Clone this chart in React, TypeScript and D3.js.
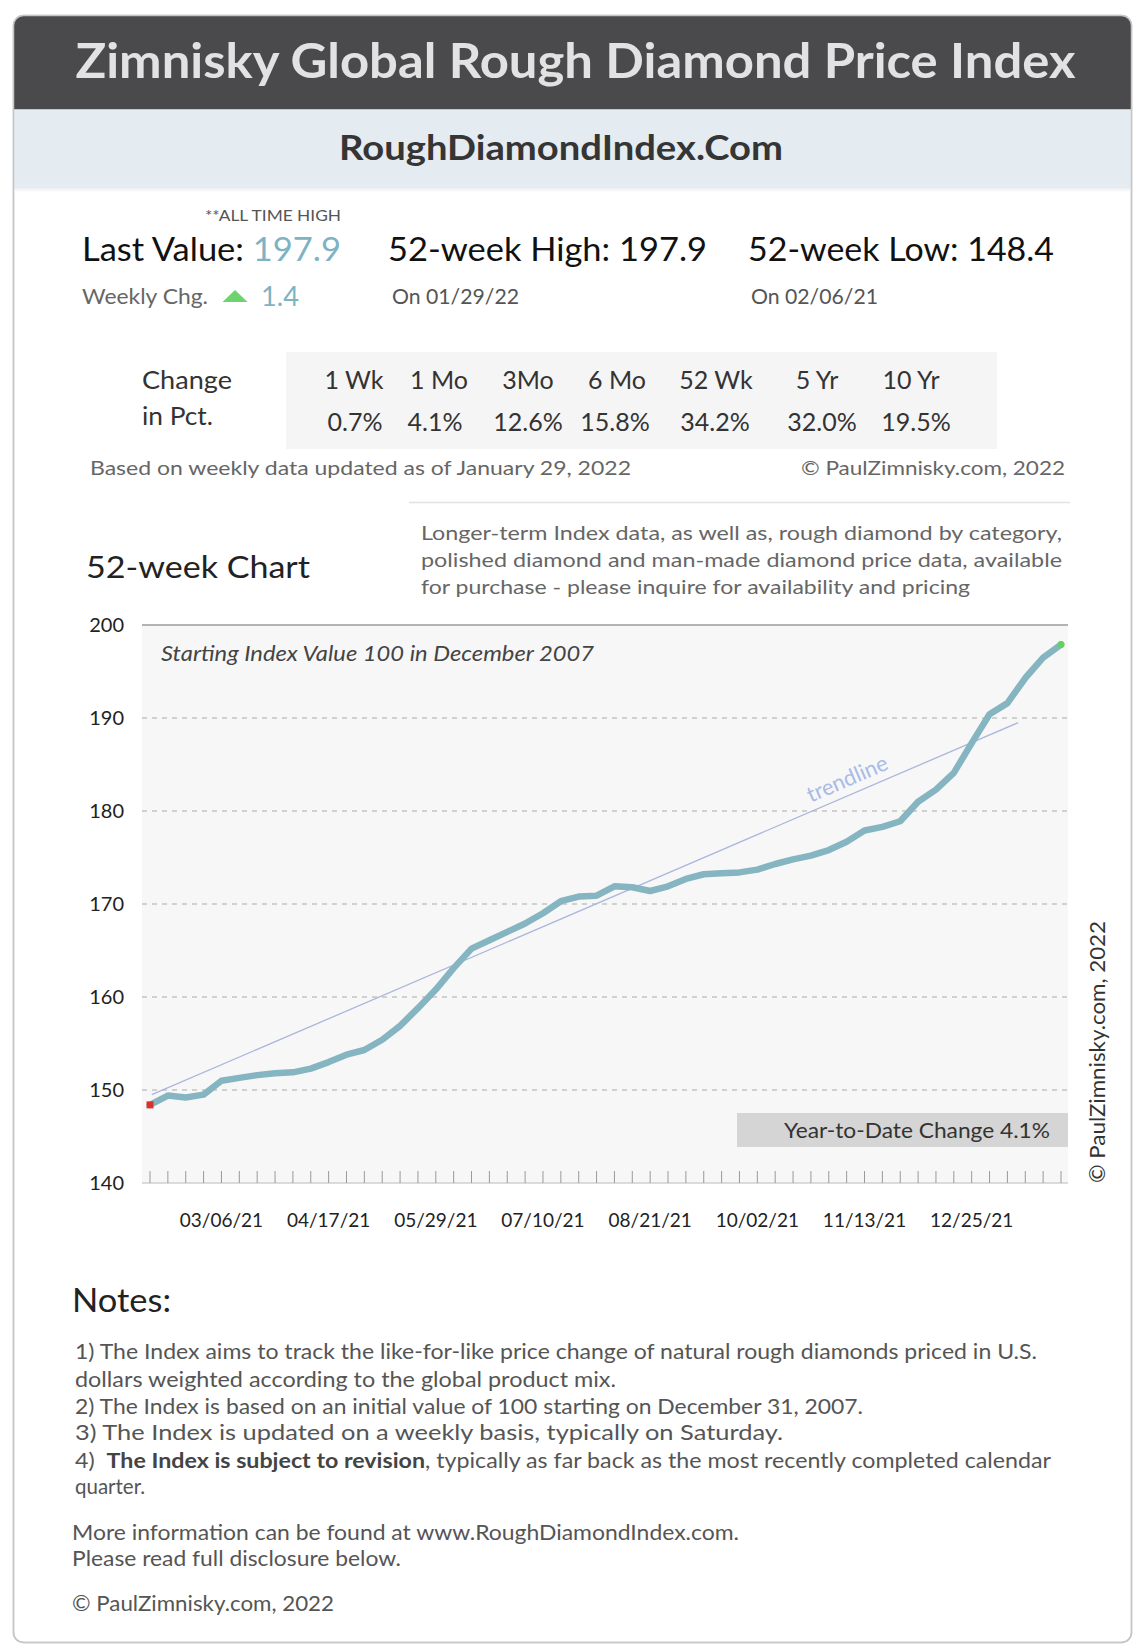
import React from "react";
import * as d3 from "d3";

// ---------- data ----------
const weeklyValues = [
  148.4, 149.4, 149.2, 149.5, 151.0, 151.3, 151.6, 151.8, 151.9, 152.3,
  153.0, 153.8, 154.3, 155.4, 156.9, 158.8, 160.8, 163.1, 165.2, 166.1,
  167.0, 167.9, 169.0, 170.3, 170.8, 170.9, 171.9, 171.8, 171.4, 171.9,
  172.7, 173.2, 173.3, 173.4, 173.7, 174.3, 174.8, 175.2, 175.8, 176.7,
  177.9, 178.3, 178.9, 181.0, 182.3, 184.1, 187.3, 190.4, 191.6, 194.3,
  196.5, 197.9,
];
const startDate = "2021-02-06";
const yTicks = [140, 150, 160, 170, 180, 190, 200];
const gridValues = [150, 160, 170, 180, 190];
const xTickLabels = ["03/06/21", "04/17/21", "05/29/21", "07/10/21", "08/21/21", "10/02/21", "11/13/21", "12/25/21"];
const periodLabels = ["1 Wk", "1 Mo", "3Mo", "6 Mo", "52 Wk", "5 Yr", "10 Yr"];
const periodChanges = ["0.7%", "4.1%", "12.6%", "15.8%", "34.2%", "32.0%", "19.5%"];
const lastValue = "197.9";
const weeklyChange = "1.4";
const high52 = "197.9";
const high52Date = "01/29/22";
const low52 = "148.4";
const low52Date = "02/06/21";
const ytdChange = "4.1%";
// trendline end points: [week index, index value]
const trendWeeks = [0.1, 48.6];
const trendValues = [149.5, 189.5];
const descLines = [
  "Longer-term Index data, as well as, rough diamond by category,",
  "polished diamond and man-made diamond price data, available",
  "for purchase - please inquire for availability and pricing",
];
const noteLines = [
  "1) The Index aims to track the like-for-like price change of natural rough diamonds priced in U.S.",
  "dollars weighted according to the global product mix.",
  "2) The Index is based on an initial value of 100 starting on December 31, 2007.",
  "3) The Index is updated on a weekly basis, typically on Saturday.",
];
const note4Bold = "The Index is subject to revision";
const note4Rest = ", typically as far back as the most recently completed calendar";

// ---------- layout ----------
const W = 1139;
const H = 1648;
const FONT = "Lato, 'Open Sans', sans-serif";
const plot = { left: 142, right: 1068, top: 625, bottom: 1183, x0: 150, x1: 1061 };
const tableHeaderX = [354, 439, 528, 617, 716, 817, 911];
const tableValueX = [355, 435, 528, 615, 715, 822, 916];

export default function App() {
  const parseDay = d3.timeParse("%Y-%m-%d");
  const parseTick = d3.timeParse("%m/%d/%y");
  const start = parseDay(startDate) as Date;
  const dates = weeklyValues.map((_, i) => d3.timeDay.offset(start, 7 * i));
  const data = weeklyValues.map((v, i) => ({ date: dates[i], value: v, i }));

  const x = d3.scaleTime().domain([dates[0], dates[dates.length - 1]]).range([plot.x0, plot.x1]);
  const y = d3.scaleLinear().domain([140, 200]).range([plot.bottom, plot.top]);
  const xi = d3.scaleLinear().domain([0, weeklyValues.length - 1]).range([plot.x0, plot.x1]);

  const line = d3
    .line<{ date: Date; value: number }>()
    .x((d) => x(d.date))
    .y((d) => y(d.value))
    .curve(d3.curveLinear);

  const trendPts = trendWeeks.map((t, k) => [xi(t), y(trendValues[k])] as [number, number]);
  const trendLine = d3.line()(trendPts) as string;
  const angle =
    (Math.atan2(trendPts[1][1] - trendPts[0][1], trendPts[1][0] - trendPts[0][0]) * 180) / Math.PI;
  const labelT = 39.2;
  const trendAt = (t: number) =>
    trendValues[0] + ((t - trendWeeks[0]) / (trendWeeks[1] - trendWeeks[0])) * (trendValues[1] - trendValues[0]);

  const first = data[0];
  const last = data[data.length - 1];

  return (
    <div style={{ position: "absolute", left: 0, top: 0 }}>
      <svg width={W} height={H} viewBox={`0 0 ${W} ${H}`} style={{ display: "block", fontFamily: FONT }}>
        <defs>
          <clipPath id="card">
            <rect x={13.5} y={15.5} width={1118} height={1627} rx={10} />
          </clipPath>
          <linearGradient id="bandShadow" x1="0" y1="0" x2="0" y2="1">
            <stop offset="0" stopColor="#dfe6ec" />
            <stop offset="1" stopColor="#ffffff" />
          </linearGradient>
          <filter id="soft" x="-5%" y="-5%" width="110%" height="110%">
            <feGaussianBlur stdDeviation="0.6" />
          </filter>
        </defs>
        <rect x={0} y={0} width={W} height={H} fill="#ffffff" />
        <rect x={13.5} y={15.5} width={1118} height={1627} rx={10} fill="#ffffff" stroke="#c6c6c6" strokeWidth={1.5} />
        <g clipPath="url(#card)">
          <rect x={13.5} y={15.5} width={1118} height={94} fill="#4a4a4c" />
          <rect x={13.5} y={109.5} width={1118} height={76} fill="#e4ebf1" />
          <rect x={13.5} y={185.5} width={1118} height={7} fill="url(#bandShadow)" />
        </g>
        <rect x={13.5} y={15.5} width={1118} height={1627} rx={10} fill="none" stroke="#c6c6c6" strokeWidth={1.5} />

        <text x={575.5} y={78} textAnchor="middle" fontSize={48} fontWeight={700} fill="#e2e2e2" textLength={1000} lengthAdjust="spacingAndGlyphs">
          Zimnisky Global Rough Diamond Price Index
        </text>
        <text x={561} y={160} textAnchor="middle" fontSize={34} fontWeight={700} fill="#353535" textLength={444} lengthAdjust="spacingAndGlyphs">
          RoughDiamondIndex.Com
        </text>

        {/* stats */}
        <text x={205} y={221} fontSize={16} fill="#555" textLength={136} lengthAdjust="spacingAndGlyphs">**ALL TIME HIGH</text>
        <text x={82} y={261} fontSize={33} fill="#111" textLength={259} lengthAdjust="spacingAndGlyphs">
          Last Value: <tspan fill="#7db3c3">{lastValue}</tspan>
        </text>
        <text x={388} y={261} fontSize={33} fill="#111" textLength={319} lengthAdjust="spacingAndGlyphs">
          {`52-week High: ${high52}`}
        </text>
        <text x={748} y={261} fontSize={33} fill="#111" textLength={306} lengthAdjust="spacingAndGlyphs">
          {`52-week Low: ${low52}`}
        </text>
        <text x={82} y={303.5} fontSize={21} fill="#666" textLength={126} lengthAdjust="spacingAndGlyphs">Weekly Chg.</text>
        <path d="M222.5,302 L247.5,302 L235,290 Z" fill="#6dd36d" />
        <text x={261} y={305.5} fontSize={26} fill="#7db3c3" textLength={38} lengthAdjust="spacingAndGlyphs">{weeklyChange}</text>
        <text x={392} y={303.5} fontSize={21} fill="#555" textLength={127} lengthAdjust="spacingAndGlyphs">{`On ${high52Date}`}</text>
        <text x={751} y={303.5} fontSize={21} fill="#555" textLength={127} lengthAdjust="spacingAndGlyphs">{`On ${low52Date}`}</text>

        {/* change table */}
        <rect x={286} y={352} width={711} height={97} fill="#f5f5f5" />
        <text x={142} y={389} fontSize={25} fill="#333" textLength={90} lengthAdjust="spacingAndGlyphs">Change</text>
        <text x={142} y={425} fontSize={25} fill="#333" textLength={71} lengthAdjust="spacingAndGlyphs">in Pct.</text>
        {periodLabels.map((p, k) => (
          <text key={p} x={tableHeaderX[k]} y={389} fontSize={25} fill="#333" textAnchor="middle">{p}</text>
        ))}
        {periodChanges.map((p, k) => (
          <text key={k} x={tableValueX[k]} y={431} fontSize={25} fill="#333" textAnchor="middle">{p}</text>
        ))}
        <text x={90} y={475} fontSize={20} fill="#666" textLength={541} lengthAdjust="spacingAndGlyphs">
          Based on weekly data updated as of January 29, 2022
        </text>
        <text x={801} y={475} fontSize={20} fill="#666" textLength={264} lengthAdjust="spacingAndGlyphs">
          © PaulZimnisky.com, 2022
        </text>
        <line x1={409} x2={1070} y1={502.5} y2={502.5} stroke="#e2e2e2" strokeWidth={1.5} />

        <text x={86} y={578} fontSize={30} fill="#222" textLength={224} lengthAdjust="spacingAndGlyphs">52-week Chart</text>
        {descLines.map((l, k) => (
          <text key={k} x={421} y={540 + k * 27} fontSize={20} fill="#666" textLength={[641, 641, 549][k]} lengthAdjust="spacingAndGlyphs">
            {l}
          </text>
        ))}

        {/* chart */}
        <rect x={plot.left} y={plot.top} width={plot.right - plot.left} height={plot.bottom - plot.top} fill="#f7f7f7" />
        {gridValues.map((g) => (
          <line key={g} x1={plot.left} x2={plot.right} y1={y(g)} y2={y(g)} stroke="#c4c4c4" strokeWidth={1.5} strokeDasharray="5,5" />
        ))}
        <line x1={plot.left} x2={plot.right} y1={y(200)} y2={y(200)} stroke="#b3b3b3" strokeWidth={2} />
        <line x1={plot.left} x2={plot.right} y1={y(140)} y2={y(140)} stroke="#d0d0d0" strokeWidth={1.5} />
        {dates.map((d, k) => (
          <line key={k} x1={x(d)} x2={x(d)} y1={y(140) - 12} y2={y(140)} stroke="#9a9a9a" strokeWidth={1} />
        ))}
        {yTicks.map((t) => (
          <text key={t} x={124} y={y(t) + 7} fontSize={20} fill="#222" textAnchor="end">{t}</text>
        ))}
        {xTickLabels.map((t) => {
          const d = parseTick(t) as Date;
          return (
            <text key={t} x={x(d)} y={1227} fontSize={19} fill="#222" textAnchor="middle">{t}</text>
          );
        })}
        <text x={161} y={661} fontSize={21} fontStyle="italic" fill="#444" textLength={433} lengthAdjust="spacingAndGlyphs">
          Starting Index Value 100 in December 2007
        </text>

        <rect x={737} y={1113} width={plot.right - 737} height={34} fill="#d5d5d5" />
        <text x={784} y={1138} fontSize={21} fill="#333" textLength={266} lengthAdjust="spacingAndGlyphs">
          {`Year-to-Date Change ${ytdChange}`}
        </text>

        {/* trendline */}
        <path d={trendLine} fill="none" stroke="#aab6dc" strokeWidth={1.3} />
        <text
          transform={`translate(${xi(labelT)},${y(trendAt(labelT)) - 9}) rotate(${angle})`}
          fontSize={22}
          fill="#a9bbe6"
          textAnchor="middle"
        >
          trendline
        </text>

        <path d={line(data) as string} fill="none" stroke="#86b5c2" strokeWidth={6.5} strokeLinejoin="round" strokeLinecap="round" filter="url(#soft)" />
        <rect x={x(first.date) - 3.5} y={y(first.value) - 3.5} width={7} height={7} fill="#d9322e" />
        <circle cx={x(last.date)} cy={y(last.value)} r={3.5} fill="#5fd35f" />

        <text transform={`translate(1105,1183) rotate(-90)`} fontSize={21} fill="#333" textLength={262} lengthAdjust="spacingAndGlyphs">
          © PaulZimnisky.com, 2022
        </text>

        {/* notes */}
        <text x={72} y={1312} fontSize={33} fill="#222" textLength={99} lengthAdjust="spacingAndGlyphs">Notes:</text>
        {noteLines.map((l, k) => (
          <text key={k} x={75} y={[1359, 1387, 1414, 1440][k]} fontSize={20.5} fill="#555" textLength={[962, 541, 788, 708][k]} lengthAdjust="spacingAndGlyphs">
            {l}
          </text>
        ))}
        <text x={75} y={1468} fontSize={20.5} fill="#555" textLength={976} lengthAdjust="spacingAndGlyphs">
          {"4)\u00a0 "}
          <tspan fontWeight={700} fill="#444">{note4Bold}</tspan>
          {note4Rest}
        </text>
        <text x={75} y={1494} fontSize={20.5} fill="#555">quarter.</text>
        <text x={72} y={1540} fontSize={20.5} fill="#555" textLength={667} lengthAdjust="spacingAndGlyphs">
          More information can be found at www.RoughDiamondIndex.com.
        </text>
        <text x={72} y={1566} fontSize={20.5} fill="#555" textLength={329} lengthAdjust="spacingAndGlyphs">
          Please read full disclosure below.
        </text>
        <text x={72} y={1611} fontSize={20.5} fill="#555" textLength={262} lengthAdjust="spacingAndGlyphs">
          © PaulZimnisky.com, 2022
        </text>
      </svg>
    </div>
  );
}
